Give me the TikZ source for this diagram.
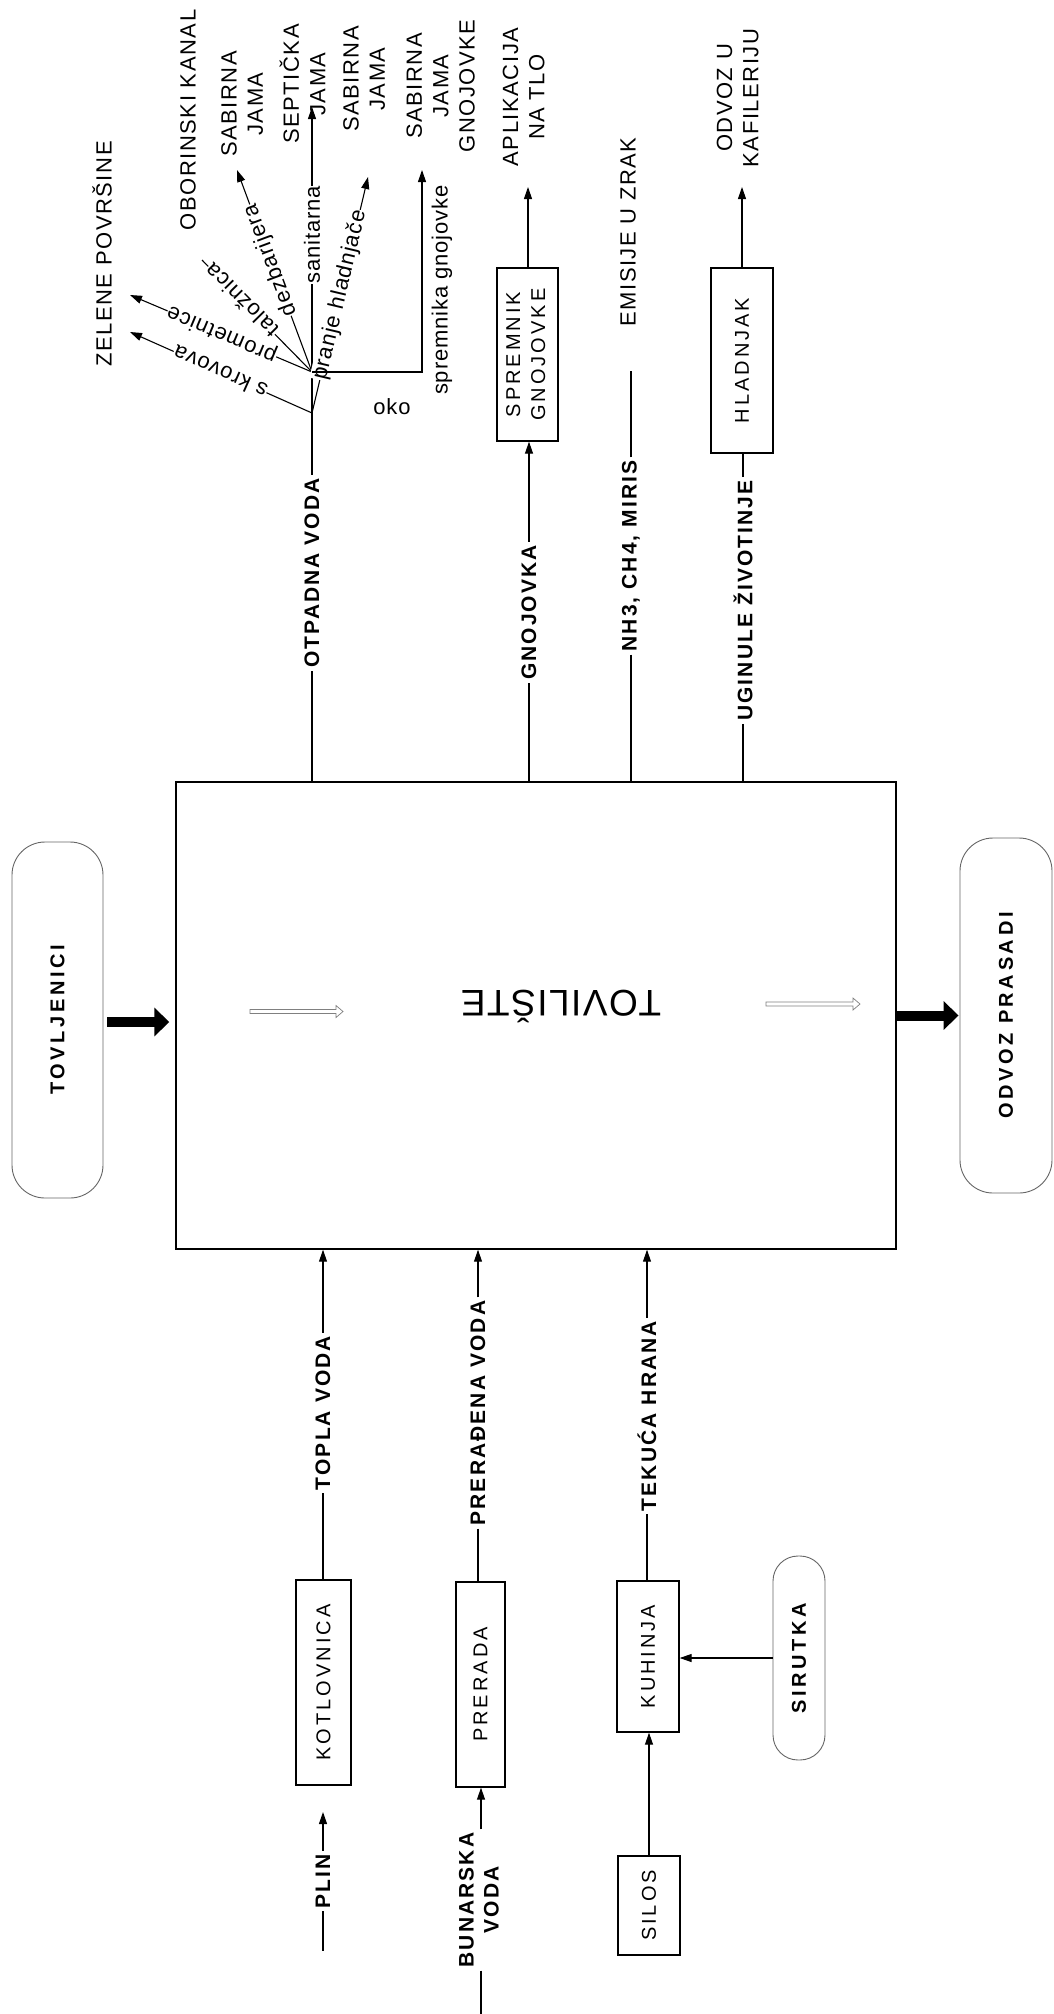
\documentclass[tikz,border=0pt]{standalone}
\usepackage{fontspec}
\usepackage{graphicx}
\setmainfont{Liberation Sans}
\usetikzlibrary{arrows.meta,calc}
\newfontfamily\flab{Liberation Sans}[LetterSpace=7]
\newfontfamily\fbld{Liberation Sans}[LetterSpace=10]
\newfontfamily\ffrm{Liberation Sans}[LetterSpace=15]
\newfontfamily\fpil{Liberation Sans}[LetterSpace=18]
\newfontfamily\fsml{Liberation Sans}[LetterSpace=4]
\newfontfamily\fbig{Liberation Sans}[LetterSpace=4]
\newcommand\rt[1]{\rotatebox[origin=c]{90}{\begin{tabular}{@{}c@{}}#1\end{tabular}}}
\newcommand\ru[1]{\rotatebox[origin=c]{90}{#1}}
\newcommand\hollowarrow[2]{%
  \draw[hollow] ($(#1)+(0,-2)$) -- ($(#2)+(-7,-2)$) -- ($(#2)+(-7,-6)$) -- (#2)
    -- ($(#2)+(-7,6)$) -- ($(#2)+(-7,2)$) -- ($(#1)+(0,2)$) -- cycle;}
\begin{document}
\begin{tikzpicture}[x=1pt,y=-1pt,
  ln/.style={line width=1.1pt},
  arr/.style={line width=1.1pt,-{Triangle[length=12pt,width=8pt]}},
  frm/.style={draw,line width=1.3pt,inner sep=0pt,font=\ffrm\fontsize{20}{25}\selectfont},
  pill/.style={draw=black!60,line width=0.9pt,rounded corners=33pt,inner sep=0pt,font=\fpil\bfseries\fontsize{20}{24}\selectfont},
  lbl/.style={inner sep=3pt,font=\flab\fontsize{22}{26.4}\selectfont},
  blbl/.style={inner sep=3pt,font=\fbld\bfseries\fontsize{21}{25}\selectfont},
  sml/.style={inner sep=1pt,font=\fsml\fontsize{22}{26}\selectfont},
  sl/.style={sml,fill=white,inner sep=0.5pt},
  thick arrow/.style={line width=10pt,-{Triangle[length=15pt,width=28pt]}},
  hollow/.style={draw=black!50,line width=0.7pt,fill=white,line join=miter}
]
\fill[white] (0,0) rectangle (1054,2014);
\useasboundingbox (0,0) rectangle (1054,2014);

% main box
\node[draw,line width=1.4pt,minimum width=720pt,minimum height=467pt,inner sep=0pt] (tov) at (536,1015.5) {};
\node[font=\fbig\fontsize{37}{44}\selectfont,rotate=180] (tovtxt) at (561,1006) {TOVILIŠTE};
\coordinate (h1a) at (250,1011.5); \coordinate (h1b) at (343,1011.5);
\coordinate (h2a) at (766,1004); \coordinate (h2b) at (860,1004);
\hollowarrow{h1a}{h1b}
\hollowarrow{h2a}{h2b}

% pills
\node[pill,minimum width=91pt,minimum height=356pt] (tovlj) at (57.5,1020) {\ru{TOVLJENICI}};
\node[pill,minimum width=92pt,minimum height=355pt] (odvoz) at (1006,1015.5) {\ru{ODVOZ PRASADI}};
\node[pill,rounded corners=25pt,minimum width=52pt,minimum height=204pt] (sir) at (799,1658) {\ru{SIRUTKA}};
\draw[thick arrow,shorten <=4pt,shorten >=6pt] ([yshift=-2pt]tovlj.east) -- ([yshift=-2pt]tovlj.east -| tov.west);
\draw[thick arrow,shorten >=1pt] (tov.east) -- (odvoz.west);

% top destinations
\node[lbl] (zelene) at (102,254) {\ru{ZELENE POVRŠINE}};
\node[lbl] (oborinski) at (188,120) {\ru{OBORINSKI KANAL}};
\node[lbl] (sab1) at (244.5,104) {\rt{SABIRNA\\JAMA}};
\node[lbl] (sept) at (306.5,84) {\rt{SEPTIČKA\\JAMA}};
\node[lbl] (sab2) at (366.5,79) {\rt{SABIRNA\\JAMA}};
\node[lbl] (sab3) at (443,86) {\rt{SABIRNA\\JAMA\\GNOJOVKE}};
\node[lbl] (aplik) at (526,97) {\rt{APLIKACIJA\\NA TLO}};
\node[lbl] (emis) at (628,232) {\ru{EMISIJE U ZRAK}};
\node[lbl] (kafil) at (740,98) {\rt{ODVOZ U\\KAFILERIJU}};

% boxes top
\node[frm,minimum width=61pt,minimum height=173pt] (sprem) at (527.5,354.5) {\rt{SPREMNIK\\GNOJOVKE}};
\node[frm,minimum width=62pt,minimum height=185pt] (hlad) at (742,360.5) {\ru{HLADNJAK}};

% boxes bottom
\node[frm,minimum width=55pt,minimum height=205pt] (kotl) at (323.5,1682.5) {\ru{KOTLOVNICA}};
\node[frm,minimum width=49pt,minimum height=205pt] (prer) at (480.5,1684.5) {\ru{PRERADA}};
\node[frm,minimum width=62pt,minimum height=151pt] (kuh) at (648,1656.5) {\ru{KUHINJA}};
\node[frm,minimum width=62pt,minimum height=99pt] (silos) at (649,1905.5) {\ru{SILOS}};

% bold flow labels
\node[blbl] (otp) at (312,573) {\ru{OTPADNA VODA}};
\node[blbl] (gnoj) at (529,612.5) {\ru{GNOJOVKA}};
\node[blbl] (nh3) at (631,556) {\ru{NH3, CH4, MIRIS}};
\node[blbl] (ugin) at (743,600.5) {\ru{UGINULE ŽIVOTINJE}};
\node[blbl] (topla) at (323,1413) {\ru{TOPLA VODA}};
\node[blbl] (prerv) at (478,1413) {\ru{PRERAĐENA VODA}};
\node[blbl] (tek) at (647,1416) {\ru{TEKUĆA HRANA}};
\node[blbl] (plin) at (323,1881) {\ru{PLIN}};
\node[blbl] (bun) at (481,1900) {\rt{BUNARSKA\\VODA}};

% waste water fan
\coordinate (F1) at (312,413); \coordinate (F2) at (312,372);
\coordinate (tKrov) at (130,332); \coordinate (tProm) at (130,295);
\coordinate (eTal) at (202,260); \coordinate (tDez) at (237,170);
\coordinate (tSan) at (312,107); \coordinate (tPr) at (368,177);
\coordinate (S1) at (422,372); \coordinate (tSpr) at (422,170);
\draw[ln] (otp.south) -- (otp.south |- tov.north);
\draw[ln] (otp.north) -- (F1) -- (F2);
\draw[arr] (F1) -- node[sl,rotate=156,pos=0.505] (krov) {s krovova} (tKrov);
\draw[arr] (F2) -- node[sl,rotate=157.1,pos=0.495] (prom) {prometnice} (tProm);
\draw[ln] (F2) -- node[sl,rotate=134.5,pos=0.64] (tal) {taložnica} (eTal);
\draw[arr] (F2) -- node[sl,rotate=110.4,pos=0.554] (dez) {dezbarijera} (tDez);
\draw[arr] (F2) -- node[sl,pos=0.517] (san) {\ru{sanitarna}} (tSan);
\draw[arr] (F1) -- node[sl,rotate=76.7,pos=0.5] (pranje) {pranje hladnjače} (tPr);
\draw[arr] (F2) -- (S1) -- (tSpr);
\node[sml] (spr) at (442,290) {\ru{spremnika gnojovke}};
\node[sml] (oko) at (392,407) {oko};

% other outputs
\coordinate (tApl) at (528,187); \coordinate (tKaf) at (742,187);
\coordinate (eEm) at (631,371);
\draw[ln] (gnoj.south) -- (gnoj.south |- tov.north);
\draw[arr] (gnoj.north) -- (gnoj.north |- sprem.south);
\draw[arr] (sprem.north -| tApl) -- (tApl);
\draw[ln] (nh3.south) -- (nh3.south |- tov.north);
\draw[ln] (nh3.north) -- (eEm);
\draw[ln] (ugin.south) -- (ugin.south |- tov.north);
\draw[ln] (ugin.north) -- (ugin.north |- hlad.south);
\draw[arr] (hlad.north) -- (tKaf);

% inputs
\coordinate (tPlin) at (323,1812); \coordinate (ePlin) at (323,1951);
\coordinate (eBun) at (481,2014);
\draw[arr] (topla.north) -- (topla.north |- tov.south);
\draw[ln] (topla.south) -- (topla.south |- kotl.north);
\draw[arr] (prerv.north) -- (prerv.north |- tov.south);
\draw[ln] (prerv.south) -- (prerv.south |- prer.north);
\draw[arr] (tek.north) -- (tek.north |- tov.south);
\draw[ln] (tek.south) -- (tek.south |- kuh.north);
\draw[arr] (plin.north) -- (tPlin);
\draw[ln] (plin.south) -- (ePlin);
\draw[arr] (bun.north) -- (bun.north |- prer.south);
\draw[ln] (bun.south) -- (eBun);
\draw[arr] (silos.north) -- (silos.north |- kuh.south);
\draw[arr] (sir.west) -- (sir.west -| kuh.east);
\end{tikzpicture}
\end{document}
